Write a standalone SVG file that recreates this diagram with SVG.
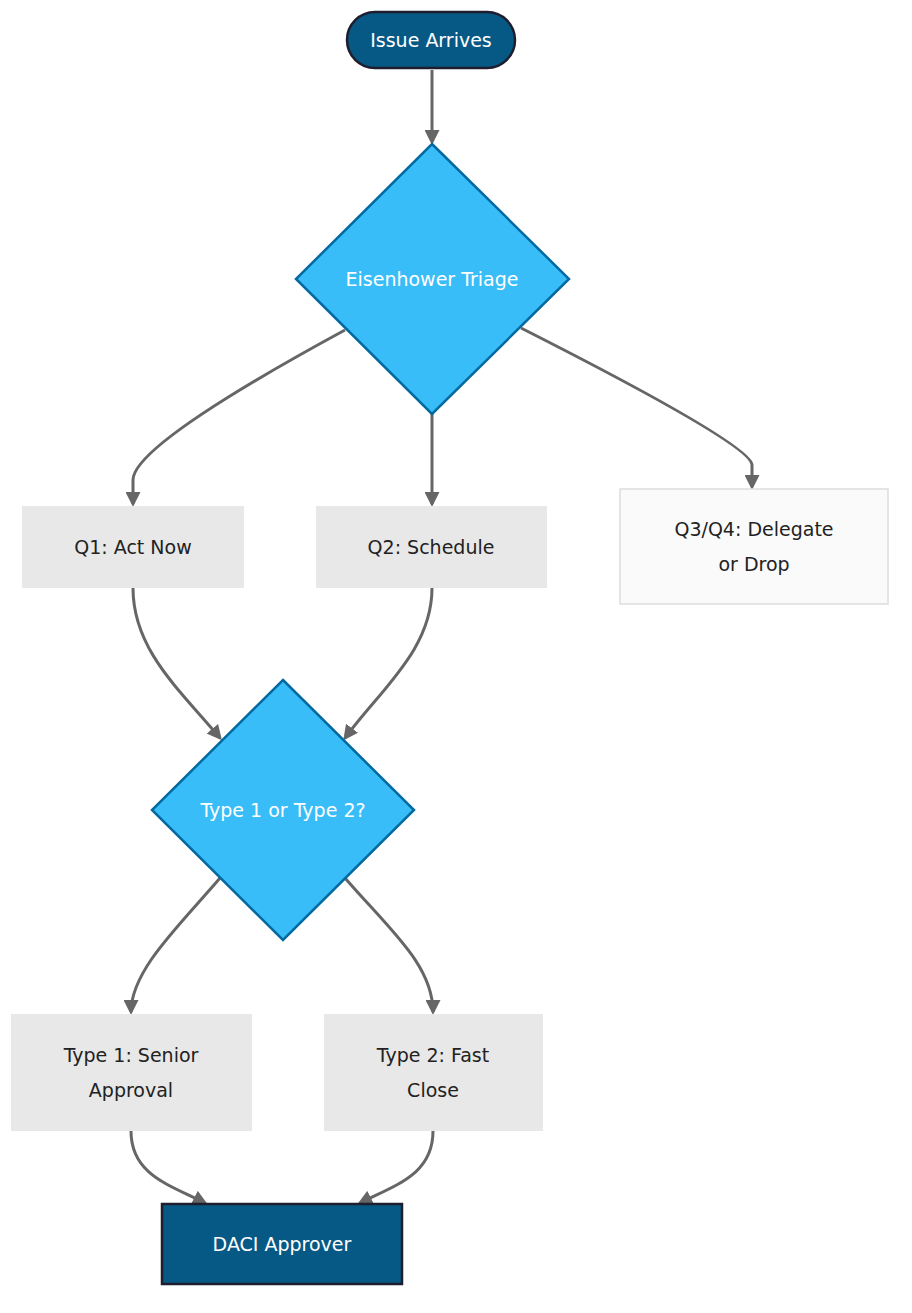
<svg xmlns="http://www.w3.org/2000/svg" width="912" height="1313" viewBox="0 0 912 1313">
<defs>
<marker id="ah" viewBox="0 0 10 10" refX="8" refY="5" markerWidth="5" markerHeight="5" orient="auto"><path d="M0,0 L10,5 L0,10 z" fill="#666"/></marker>
<style>
.e{fill:none;stroke:#666;stroke-width:3;marker-end:url(#ah)}
.t{font-family:"DejaVu Sans",sans-serif;font-size:19px;text-anchor:middle;fill:#222}
.w{fill:#fff}
.dk{fill:#075985;stroke:#1e1e2e;stroke-width:2.5}
.dm{fill:#38bdf8;stroke:#0369a1;stroke-width:2.5}
.g{fill:#e8e8e8}
</style>
</defs>
<rect width="912" height="1313" fill="#fff"/>
<g id="connectors">
<path class="e" d="M432,70 L432,142"/>
<path class="e" d="M345,330 Q133,445 133,480 L133,504"/>
<path class="e" d="M432,414 L432,504"/>
<path class="e" d="M521,328 Q752,445 752,465 L752,487"/>
<path class="e" d="M133,588 C133,650 180,690 220,738"/>
<path class="e" d="M432,588 C432,650 380,690 345,738"/>
<path class="e" d="M220,878 C180,925 131,970 131,1012"/>
<path class="e" d="M345,878 C390,930 433,965 433,1012"/>
<path class="e" d="M131,1131 C131,1175 170,1185 205,1203"/>
<path class="e" d="M433,1131 C433,1175 395,1185 360,1203"/>
</g>
<g id="n1"><rect class="dk" x="347" y="12" width="168" height="56" rx="28"/><text class="t w" x="431" y="47">Issue Arrives</text></g>
<g id="n2"><polygon class="dm" points="432,144 569,279 432,414 296,279"/><text class="t w" x="432" y="286">Eisenhower Triage</text></g>
<g id="n3"><rect class="g" x="22" y="506" width="222" height="82"/><text class="t" x="133" y="554">Q1: Act Now</text></g>
<g id="n4"><rect class="g" x="316" y="506" width="231" height="82"/><text class="t" x="431" y="554">Q2: Schedule</text></g>
<g id="n5"><rect x="620" y="489" width="268" height="115" fill="#fafafa" stroke="#ddd" stroke-width="1.5"/><text class="t" x="754" y="536">Q3/Q4: Delegate</text><text class="t" x="754" y="571">or Drop</text></g>
<g id="n6"><polygon class="dm" points="283,680 414,810 283,940 152,810"/><text class="t w" x="283" y="817">Type 1 or Type 2?</text></g>
<g id="n7"><rect class="g" x="11" y="1014" width="241" height="117"/><text class="t" x="131" y="1062">Type 1: Senior</text><text class="t" x="131" y="1097">Approval</text></g>
<g id="n8"><rect class="g" x="324" y="1014" width="219" height="117"/><text class="t" x="433" y="1062">Type 2: Fast</text><text class="t" x="433" y="1097">Close</text></g>
<g id="n9"><rect class="dk" x="162" y="1204" width="240" height="80"/><text class="t w" x="282" y="1251">DACI Approver</text></g>
</svg>
